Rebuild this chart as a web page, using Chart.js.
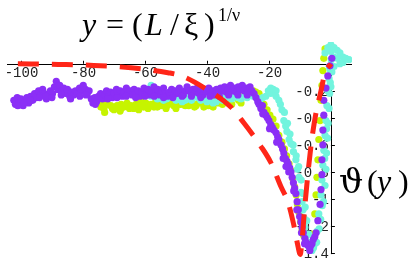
<!DOCTYPE html>
<html lang="en">
<head>
    <meta charset="UTF-8">
    <title>theta(y) scaling</title>
    <script src="https://cdn.jsdelivr.net/npm/chart.js"></script>
    <style>
        body { margin: 0; background: #fff; }
    </style>
</head>
<body>
    <canvas id="myChart" width="415" height="264"></canvas>

    <script>
        // tick values
        const xTicks = [-100, -80, -60, -40, -20];
        const yTicks = [-0.2, -0.4, -0.6, -0.8, -1, -1.2, -1.4];
        const yTickLabels = ['-0.2', '-0.4', '-0.6', '-0.8', '-1', '-1.2', '-1.4'];

        // red dashed curve
        const redCurve = [
            [-101, 0.0], [-88, -0.005], [-76.5, -0.012], [-64.5, -0.03], [-52.6, -0.066],
            [-48.4, -0.088], [-41, -0.176], [-32.3, -0.32], [-28, -0.44], [-22.6, -0.61],
            [-19.4, -0.73], [-16.1, -0.91], [-13.9, -1.02], [-11.9, -1.2], [-10.8, -1.33],
            [-9.9, -1.41], [-9.3, -1.3], [-8.4, -1.05], [-6.5, -0.62], [-4.8, -0.36],
            [-3.2, -0.2], [-1.9, -0.066], [0, 0.0]
        ];

        // purple points
        const purple = [
            [-102.3,-0.27],[-101.8,-0.30],[-101.2,-0.25],[-100.5,-0.29],[-100,-0.26],[-99.3,-0.31],[-98.8,-0.28],
            [-98.1,-0.25],[-97.5,-0.29],[-96.9,-0.24],[-96.2,-0.27],[-95.6,-0.22],[-95,-0.25],[-94.3,-0.20],
            [-93.7,-0.23],[-93,-0.19],[-92.4,-0.22],[-91.8,-0.26],[-91.1,-0.23],[-90.5,-0.20],[-89.8,-0.22],
            [-89.2,-0.17],[-88.6,-0.13],[-88.1,-0.19],[-87.5,-0.16],[-86.9,-0.20],[-86.2,-0.18],[-85.6,-0.22],
            [-85,-0.19],[-84.3,-0.24],[-83.7,-0.21],[-83,-0.23],[-82.4,-0.20],[-81.8,-0.22],[-81.1,-0.18],
            [-80.5,-0.20],[-79.9,-0.16],[-79.2,-0.19],[-78.6,-0.22],[-78,-0.20],[-77.3,-0.26],[-76.8,-0.29],
            [-76.2,-0.25],[-75.6,-0.28],[-75,-0.24],[-74.3,-0.22],[-73.7,-0.26],[-73,-0.23],[-72.4,-0.20],
            [-71.8,-0.24],[-71.1,-0.21],[-70.5,-0.25],[-69.9,-0.22],[-69.2,-0.19],[-68.6,-0.23],[-68,-0.20],
            [-67.3,-0.24],[-66.7,-0.21],[-66,-0.18],[-65.4,-0.22],[-64.8,-0.20],[-64.1,-0.23],[-63.5,-0.19],
            [-62.9,-0.22],[-62.2,-0.20],[-61.6,-0.24],[-61,-0.21],[-60.3,-0.18],[-59.7,-0.22],[-59,-0.19],
            [-58.4,-0.23],[-57.8,-0.20],[-57.1,-0.17],[-56.5,-0.21],[-55.9,-0.19],[-55.2,-0.23],[-54.6,-0.20],
            [-54,-0.18],[-53.3,-0.22],[-52.7,-0.24],[-52.1,-0.21],[-51.4,-0.19],[-50.8,-0.23],[-50.2,-0.20],
            [-49.5,-0.22],[-48.9,-0.18],[-48.3,-0.21],[-47.6,-0.23],[-47,-0.20],[-46.4,-0.17],[-45.7,-0.20],
            [-45.1,-0.22],[-44.5,-0.19],[-43.8,-0.21],[-43.2,-0.18],[-42.6,-0.22],[-41.9,-0.20],[-41.3,-0.23],
            [-40.7,-0.19],[-40,-0.21],[-39.4,-0.18],[-38.8,-0.22],[-38.1,-0.20],[-37.5,-0.23],[-36.9,-0.19],
            [-36.2,-0.21],[-35.6,-0.18],[-35,-0.20],[-34.3,-0.17],[-33.7,-0.21],[-33.1,-0.19],[-32.4,-0.16],
            [-31.8,-0.20],[-31.2,-0.18],[-30.5,-0.21],[-29.9,-0.17],[-29.3,-0.19],[-28.6,-0.16],[-28,-0.20],
            [-27.4,-0.18],[-26.7,-0.21],[-26.1,-0.17],[-25.5,-0.20],[-24.8,-0.22],[-24.2,-0.25],
            [-23.6,-0.28],[-23.2,-0.30],[-22.6,-0.33],[-22.1,-0.31],[-21.6,-0.36],[-21,-0.38],[-20.5,-0.40],
            [-20,-0.42],[-19.4,-0.45],[-18.9,-0.47],[-18.4,-0.49],[-17.7,-0.51],[-17.2,-0.54],[-16.8,-0.56],
            [-16.1,-0.60],[-15.6,-0.63],[-15.2,-0.66],[-14.7,-0.70],[-14.2,-0.72],[-13.8,-0.74],[-13.3,-0.77],
            [-12.9,-0.80],[-12.5,-0.84],[-12.1,-0.88],[-11.7,-0.92],[-11.3,-0.96],[-10.9,-1.02],[-10.5,-1.08],
            [-10.1,-1.13],[-9.7,-1.17],[-9.3,-1.21],[-8.9,-1.25],[-8.4,-1.29],[-8.0,-1.32],[-7.5,-1.34],
            [-7.1,-1.35],[-6.6,-1.35],[-6.1,-1.33],[-5.7,-1.30],[-5.2,-1.28],[-4.8,-1.25],[-4.2,-1.16],
            [-3.5,-1.04],[-3.2,-0.93],[-2.9,-0.82],[-2.9,-0.71],[-2.6,-0.60],[-2.6,-0.49],[-2.3,-0.38],
            [-2.3,-0.27],[-1.6,-0.18],[-1.0,-0.09],[-0.3,-0.015],[0.3,0.04],
            // lower edge of the band
            [-101,-0.31],[-99,-0.29],[-97,-0.27],[-94,-0.25],[-92,-0.24],[-90,-0.25],[-87,-0.23],[-84,-0.26],
            [-81,-0.24],[-79,-0.23],[-76,-0.30],[-72,-0.26],[-69,-0.25],[-66,-0.24],[-63,-0.25],[-60,-0.24],
            [-57,-0.24],[-54,-0.25],[-51,-0.25],[-48,-0.24],[-45,-0.24],[-42,-0.25],[-39,-0.24],[-36,-0.24],
            [-33,-0.23],[-30,-0.23],[-27,-0.23],[-15.4,-0.70],[-13.6,-0.80],[-12,-0.94],[-9.5,-1.25],[-6.8,-1.38],
            [-22,-0.37],[-19.8,-0.48],[-17.5,-0.58],[-14.5,-0.76],[-11,-1.08],[-8.5,-1.33]
        ];

        // cyan points
        const cyan = [
            [-58,-0.16],[-58,-0.24],[-57,-0.22],[-56,-0.26],[-55,-0.25],[-54,-0.27],[-53,-0.26],[-52,-0.24],
            [-51,-0.25],[-50,-0.27],[-49,-0.26],[-48,-0.28],[-47,-0.27],[-46,-0.25],[-45,-0.27],[-44,-0.24],
            [-43,-0.25],[-42,-0.27],[-41,-0.26],[-40,-0.28],[-39,-0.27],[-38,-0.29],[-37,-0.28],[-36,-0.26],
            [-35,-0.27],[-34,-0.24],[-33,-0.25],[-32,-0.26],[-31,-0.24],[-30,-0.25],[-29,-0.26],[-28,-0.24],
            [-27,-0.25],[-26,-0.23],[-25,-0.24],[-24,-0.25],[-23,-0.27],[-22,-0.25],[-21,-0.24],[-20.2,-0.20],
            [-19.4,-0.18],[-19.4,-0.22],[-18.6,-0.19],[-17.7,-0.20],[-17.7,-0.24],[-16.8,-0.27],[-16.3,-0.30],
            [-15.8,-0.34],[-15.2,-0.42],[-14.6,-0.46],[-14.2,-0.50],[-13.5,-0.56],[-12.9,-0.59],[-12.1,-0.65],
            [-11.3,-0.71],[-10.8,-0.78],[-10.3,-0.84],[-9.7,-0.95],[-9.3,-1.02],[-9,-1.08],[-8.7,-1.14],
            [-8.4,-1.21],[-8.0,-1.27],[-7.7,-1.32],[-7.2,-1.35],[-6.8,-1.38],[-6.1,-1.38],[-5.6,-1.36],
            [-5.2,-1.33],[-4.5,-1.24],[-3.9,-1.11],[-3.2,-0.97],[-2.9,-0.86],[-2.6,-0.75],[-2.3,-0.64],
            [-1.9,-0.53],[-1.6,-0.42],[-1.3,-0.31],[-1.0,-0.20],[-0.6,-0.11],[-0.3,-0.04],
            [-3.3,-1.15],[-2.4,-1.02],[-1.9,-0.90],[-1.6,-0.78],[-1.4,-0.66],[-1.1,-0.55],[-0.9,-0.44],
            [-0.6,-0.33],[-0.4,-0.22],[-0.2,-0.14],[0.0,-0.17],
            [-1.9,0.08],[-1.0,0.12],[0.0,0.14],[0.0,0.09],[0.1,0.03],[1.0,0.12],[1.0,0.05],[1.0,-0.02],
            [2.0,0.10],[2.0,0.04],[2.9,0.08],[2.9,0.0],[3.9,0.05],[3.9,0.01],[4.8,0.04],[5.8,0.03],
            // outer edge on both flanks
            [-15.0,-0.36],[-14.0,-0.44],[-13.2,-0.52],[-12.2,-0.60],[-11.2,-0.68],[-10.4,-0.76],[-9.6,-0.86],
            [-9.0,-0.96],[-8.3,-1.06],[-7.8,-1.16],[-7.2,-1.26],[-6.3,-1.32],[-4.6,-1.32],[-3.8,-1.22],
            [-2.8,-1.05],[-2.0,-0.70],[-1.4,-0.48],[-0.5,-0.02],[0.3,-0.06]
        ];

        // yellow-green points
        const yellow = [
            [-74.2,-0.32],[-74.2,-0.30],[-73.2,-0.33],[-72.3,-0.30],[-71,-0.31],[-70,-0.34],[-69,-0.31],
            [-67.7,-0.30],[-67.7,-0.33],[-66.8,-0.32],[-65.8,-0.29],[-64.5,-0.31],[-63.6,-0.33],[-62.9,-0.30],
            [-61.3,-0.31],[-61.3,-0.28],[-60.4,-0.32],[-59.7,-0.29],[-58.6,-0.31],[-58,-0.30],[-57.1,-0.32],
            [-56.5,-0.28],[-55.6,-0.30],[-54.8,-0.31],[-53.9,-0.29],[-53.2,-0.33],[-52.4,-0.30],[-51.6,-0.29],
            [-50.7,-0.31],[-50,-0.28],[-49.2,-0.30],[-48.4,-0.30],[-47.6,-0.27],[-46.8,-0.29],[-45.9,-0.31],
            [-45.2,-0.28],[-44.4,-0.30],[-43.5,-0.31],[-42.7,-0.29],[-41.9,-0.28],[-41.1,-0.30],[-40.3,-0.29],
            [-39.5,-0.31],[-38.7,-0.30],[-37.8,-0.27],[-37,-0.28],[-36.2,-0.29],[-35.5,-0.27],[-34.7,-0.25],
            [-33.9,-0.26],[-33.1,-0.28],[-32.3,-0.27],[-31.4,-0.24],[-30.6,-0.25],[-29.8,-0.27],[-29,-0.26],
            [-28.2,-0.24],[-27.4,-0.24],[-26.6,-0.22],[-25.8,-0.22],[-25,-0.20],[-24.2,-0.21],[-23.2,-0.22],
            [-22.6,-0.26],[-21.6,-0.30],[-20.6,-0.34],[-19.7,-0.38],[-18.7,-0.41],[-17.7,-0.46],[-16.8,-0.53],
            [-15.8,-0.58],[-15.0,-0.63],[-14.3,-0.68],[-13.5,-0.74],[-12.9,-0.79],[-12.3,-0.85],[-11.7,-0.91],
            [-11.2,-0.97],[-10.8,-1.04],[-10.3,-1.10],[-9.8,-1.17],[-9.3,-1.23],[-8.8,-1.27],[-8.2,-1.31],
            [-7.7,-1.33],[-7.1,-1.34],[-6.5,-1.33],[-5.8,-1.26],[-5.2,-1.11],[-4.8,-0.97],[-4.5,-0.84],
            [-4.2,-0.71],[-3.9,-0.56],[-3.5,-0.42],[-3.2,-0.27],[-2.9,-0.16],[-2.6,-0.05],[-2.3,0.04],
            [-1.9,0.11],
            // lower edge of the band
            [-73,-0.36],[-70.5,-0.33],[-68,-0.35],[-65,-0.33],[-62,-0.34],[-59,-0.33],[-56,-0.32],[-53,-0.31],
            [-50,-0.33],[-47,-0.31],[-44,-0.32],[-41,-0.32],[-38,-0.32],[-35,-0.30],[-32,-0.30],[-29,-0.29]
        ];

        const toXY = pts => pts.map(p => ({ x: p[0], y: p[1] }));

        // axes, tick labels and the two formula labels, drawn by hand like the original
        const axesPlugin = {
            id: 'mmaAxes',
            beforeDatasetsDraw(chart) {
                const ctx = chart.ctx;
                const xs = chart.scales.x, ys = chart.scales.y;
                const area = chart.chartArea;
                const y0 = ys.getPixelForValue(0);
                const x0 = xs.getPixelForValue(0);
                ctx.save();
                ctx.strokeStyle = '#000';
                ctx.lineWidth = 1;

                // x axis
                ctx.beginPath();
                ctx.moveTo(area.left, Math.round(y0) + 0.5);
                ctx.lineTo(area.right, Math.round(y0) + 0.5);
                ctx.stroke();
                // y axis
                ctx.beginPath();
                ctx.moveTo(Math.round(x0) + 0.5, ys.getPixelForValue(0.13));
                ctx.lineTo(Math.round(x0) + 0.5, ys.getPixelForValue(-1.4) + 1);
                ctx.stroke();

                // x ticks + labels
                ctx.fillStyle = '#222';
                ctx.font = '14px "Liberation Mono"';
                ctx.textAlign = 'center';
                ctx.textBaseline = 'top';
                xTicks.forEach(v => {
                    const px = Math.round(xs.getPixelForValue(v)) + 0.5;
                    ctx.beginPath();
                    ctx.moveTo(px, y0 - 3);
                    ctx.lineTo(px, y0);
                    ctx.stroke();
                    ctx.fillText(String(v), px, y0 + 3);
                });

                // y ticks + labels
                ctx.textAlign = 'right';
                ctx.textBaseline = 'middle';
                yTicks.forEach((v, i) => {
                    const py = Math.round(ys.getPixelForValue(v)) + 0.5;
                    ctx.beginPath();
                    ctx.moveTo(x0, py);
                    ctx.lineTo(x0 + 4, py);
                    ctx.stroke();
                    ctx.fillText(yTickLabels[i], x0 - 2, py + 1);
                });
                ctx.restore();
            },
            afterDraw(chart) {
                const ctx = chart.ctx;
                ctx.save();
                ctx.fillStyle = '#000';
                ctx.textBaseline = 'alphabetic';
                ctx.textAlign = 'left';
                const serif = '"Liberation Serif", "DejaVu Serif", serif';

                // title  y = (L/xi)^(1/nu)
                ctx.font = 'italic 32px ' + serif;
                ctx.fillText('y', 82, 35);
                ctx.font = '32px ' + serif;
                ctx.fillText('=', 106, 35);
                ctx.fillText('(', 132, 35);
                ctx.font = 'italic 32px ' + serif;
                ctx.fillText('L', 145, 35);
                ctx.font = '32px ' + serif;
                ctx.fillText('/', 170, 35);
                ctx.fillText('ξ', 184, 35);
                ctx.fillText(')', 204, 35);
                ctx.font = '18px ' + serif;
                ctx.fillText('1/ν', 218, 21);

                // right label  theta(y)
                ctx.font = '34px "DejaVu Serif", serif';
                ctx.fillText('ϑ', 339, 193);
                ctx.font = '32px ' + serif;
                ctx.fillText('(', 367, 192);
                ctx.font = 'italic 32px ' + serif;
                ctx.fillText('y', 377, 192);
                ctx.font = '32px ' + serif;
                ctx.fillText(')', 398, 192);
                ctx.restore();
            }
        };

        const dotStyle = color => ({
            pointRadius: 3.6,
            pointBackgroundColor: color,
            pointBorderWidth: 0,
            borderColor: color,
            backgroundColor: color,
            showLine: false
        });

        const data = {
            datasets: [
                {
                    label: 'model',
                    data: toXY(redCurve),
                    showLine: true,
                    borderColor: '#ff2618',
                    borderWidth: 5,
                    borderDash: [21, 13],
                    pointRadius: 0,
                    cubicInterpolationMode: 'monotone',
                    fill: false
                },
                Object.assign({ label: 'purple', data: toXY(purple) }, dotStyle('#8b2ff6')),
                Object.assign({ label: 'cyan', data: toXY(cyan) }, dotStyle('#72f4de')),
                Object.assign({ label: 'yellow', data: toXY(yellow) }, dotStyle('#c6f400'))
            ]
        };

        const config = {
            type: 'scatter',
            data: data,
            options: {
                responsive: false,
                animation: false,
                layout: { padding: { left: 7, right: 63, top: 42, bottom: 2 } },
                plugins: { legend: { display: false }, tooltip: { enabled: false } },
                scales: {
                    x: { type: 'linear', min: -104.5, max: 6.8, display: false },
                    y: { type: 'linear', min: -1.451, max: 0.161, display: false }
                }
            },
            plugins: [axesPlugin]
        };

        const myChart = new Chart(document.getElementById('myChart'), config);
    </script>
</body>
</html>
